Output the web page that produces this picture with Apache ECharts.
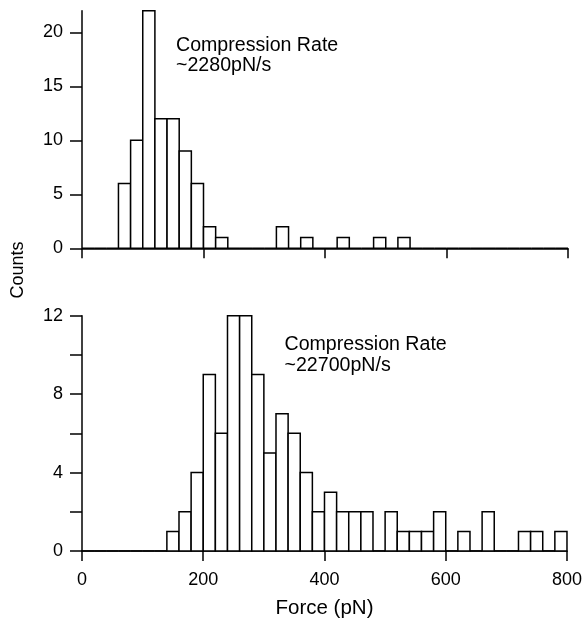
<!DOCTYPE html>
<html>
<head>
<meta charset="utf-8">
<script src="https://cdn.jsdelivr.net/npm/echarts@6/dist/echarts.min.js"></script>
<style>
  html, body { margin: 0; padding: 0; background: #fff; }
  #chart { width: 585px; height: 620px; }
</style>
</head>
<body>
<div id="chart"></div>
<script>
// force bins (pN), 20 pN wide, 0..800
const binStarts = [0, 20, 40, 60, 80, 100, 120, 140, 160, 180,
  200, 220, 240, 260, 280, 300, 320, 340, 360, 380,
  400, 420, 440, 460, 480, 500, 520, 540, 560, 580,
  600, 620, 640, 660, 680, 700, 720, 740, 760, 780];
const binWidth = 20;

// counts at ~2280 pN/s
const slowCounts = [0, 0, 0, 6, 10, 22, 12, 12, 9, 6,
  2, 1, 0, 0, 0, 0, 2, 0, 1, 0,
  0, 1, 0, 0, 1, 0, 1, 0, 0, 0,
  0, 0, 0, 0, 0, 0, 0, 0, 0, 0];

// counts at ~22700 pN/s
const fastCounts = [0, 0, 0, 0, 0, 0, 0, 1, 2, 4,
  9, 6, 12, 12, 9, 5, 7, 6, 4, 2,
  3, 2, 2, 2, 0, 2, 1, 1, 1, 2,
  0, 1, 0, 2, 0, 0, 1, 1, 0, 1];

const slowYLabels = [0, 5, 10, 15, 20];
const fastYLabels = [0, 4, 8, 12];

const font = 'Liberation Sans, Arial, Helvetica, sans-serif';

function renderBins(params, api) {
  const start = api.value(0), end = api.value(1), count = api.value(2);
  const tl = api.coord([start, count]);
  const br = api.coord([end, 0]);
  return {
    type: 'rect',
    shape: { x: tl[0], y: tl[1], width: br[0] - tl[0], height: br[1] - tl[1] },
    style: { fill: '#fff', stroke: '#000', lineWidth: 1.5 }
  };
}

function xAxisFor(gridIndex, showLabels) {
  return {
    type: 'value',
    gridIndex: gridIndex,
    min: 0,
    max: 800,
    interval: 200,
    offset: 3,
    splitLine: { show: false },
    axisLine: { lineStyle: { color: '#000', width: 1.5 } },
    axisTick: { length: 10, lineStyle: { color: '#000', width: 1.5 } },
    axisLabel: { show: showLabels, color: '#000', fontSize: 18, fontFamily: font, margin: 17 }
  };
}

function yAxisFor(gridIndex, max, interval, labels) {
  return {
    type: 'value',
    gridIndex: gridIndex,
    min: 0,
    max: max,
    interval: interval,
    splitLine: { show: false },
    axisLine: { show: true, lineStyle: { color: '#000', width: 1.5 } },
    axisTick: { show: true, length: 12, lineStyle: { color: '#000', width: 1.5 } },
    axisLabel: { color: '#000', fontSize: 18, fontFamily: font, margin: 19, customValues: labels }
  };
}

const chart = echarts.init(document.getElementById('chart'));

const bottomX = xAxisFor(1, true);
bottomX.name = 'Force (pN)';
bottomX.nameLocation = 'middle';
bottomX.nameGap = 44;
bottomX.nameTextStyle = { color: '#000', fontSize: 20.5, fontFamily: font };

const topY = yAxisFor(0, 22, 5, slowYLabels);
topY.axisTick.customValues = slowYLabels;

chart.setOption({
  animation: false,
  backgroundColor: '#fff',
  grid: [
    { left: 82, right: 17, top: 10.7, height: 237.6 },
    { left: 82, right: 17, top: 315.7, height: 236.6 }
  ],
  xAxis: [xAxisFor(0, false), bottomX],
  yAxis: [topY, yAxisFor(1, 12, 2, fastYLabels)],
  graphic: [
    {
      type: 'text', x: 18, y: 270, rotation: Math.PI / 2,
      style: { text: 'Counts', fontSize: 18, fontFamily: font, fill: '#000', align: 'center', verticalAlign: 'middle' }
    },
    {
      type: 'text', x: 176, y: 35.2,
      style: { text: 'Compression Rate\n~2280pN/s', fontSize: 19.6, lineHeight: 20.5, fontFamily: font, fill: '#000', verticalAlign: 'top' }
    },
    {
      type: 'text', x: 284.5, y: 334.5,
      style: { text: 'Compression Rate\n~22700pN/s', fontSize: 19.6, lineHeight: 20.5, fontFamily: font, fill: '#000', verticalAlign: 'top' }
    }
  ],
  series: [
    {
      type: 'custom',
      xAxisIndex: 0,
      yAxisIndex: 0,
      renderItem: renderBins,
      encode: { x: [0, 1], y: 2 },
      data: binStarts.map((s, i) => [s, s + binWidth, slowCounts[i]])
    },
    {
      type: 'custom',
      xAxisIndex: 1,
      yAxisIndex: 1,
      renderItem: renderBins,
      encode: { x: [0, 1], y: 2 },
      data: binStarts.map((s, i) => [s, s + binWidth, fastCounts[i]])
    }
  ]
});
</script>
</body>
</html>
